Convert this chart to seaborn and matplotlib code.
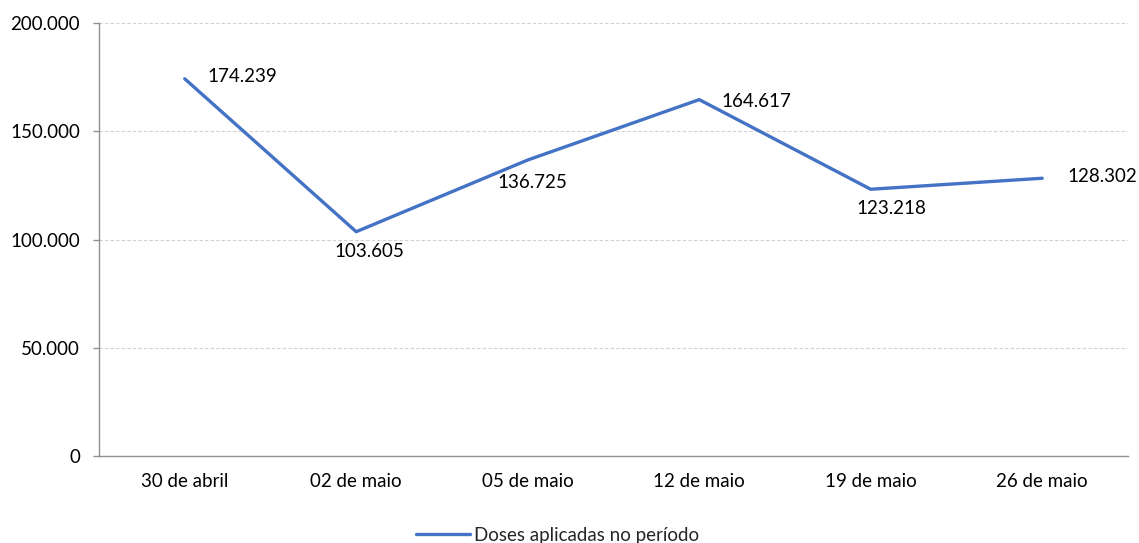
import matplotlib
matplotlib.use("Agg")
import matplotlib.pyplot as plt
import seaborn as sns
import pandas as pd
from matplotlib.ticker import FuncFormatter, FixedLocator
from matplotlib.lines import Line2D

categories = ["30 de abril", "02 de maio", "05 de maio", "12 de maio", "19 de maio", "26 de maio"]
doses = [174239, 103605, 136725, 164617, 123218, 128302]
series_name = "Doses aplicadas no período"

sns.set_theme(style="white")
plt.rcParams['font.family'] = ['Lato', 'DejaVu Sans']

df = pd.DataFrame({"idx": range(len(categories)), "val": doses, "serie": series_name})

FS = 13.5
fig = plt.figure(figsize=(11.39, 5.43), dpi=100)
ax = fig.add_axes([0.0869, 0.1602, 0.9034, 0.7974])

color = "#4472C4"
sns.lineplot(data=df, x="idx", y="val", hue="serie", palette=[color], linewidth=2.4, ax=ax, legend=False)

ax.set_xlim(-0.5, len(categories) - 0.5)
ax.set_ylim(0, 200000)
ax.set_yticks([0, 50000, 100000, 150000, 200000])
ax.yaxis.set_major_formatter(FuncFormatter(lambda v, p: f"{int(v):,}".replace(",", ".")))
ax.set_xticks(range(len(categories)))
ax.set_xticklabels(categories)
ax.xaxis.set_minor_locator(FixedLocator([i - 0.5 for i in range(len(categories) + 1)]))
ax.tick_params(axis="x", which="major", length=0, pad=12, labelsize=FS, colors="#000000")
ax.tick_params(axis="x", which="minor", length=4.5, width=1, color="#909090", direction="out")
ax.tick_params(axis="y", length=4.5, width=1, color="#909090", direction="out", labelsize=FS, pad=9,
               left=True, labelcolor="#000000")
ax.set_xlabel("")
ax.set_ylabel("")

ax.grid(axis="y", linestyle=(0, (3, 2)), color="#D0D0D0", linewidth=0.8)
ax.set_axisbelow(True)
for s in ["top", "right"]:
    ax.spines[s].set_visible(False)
for s in ["left", "bottom"]:
    ax.spines[s].set_color("#909090")
    ax.spines[s].set_linewidth(1)

offsets = [(16.5, 1.5, "left"),
           (9.4, -14.4, "center"),
           (3, -16.5, "center"),
           (15.8, -1.4, "left"),
           (15, -13.7, "center"),
           (18, 1.4, "left")]
for i, v in enumerate(doses):
    dx, dy, ha = offsets[i]
    ax.annotate(f"{v:,}".replace(",", "."), (i, v), xytext=(dx, dy), textcoords="offset points",
                ha=ha, va="center", fontsize=FS, color="#000000")

handle = Line2D([0], [0], color=color, linewidth=2.4)
fig.legend([handle], [series_name], loc="center", bbox_to_anchor=(0.4895, 0.0147), frameon=False,
           fontsize=FS, handlelength=2.9, handletextpad=0.2, borderpad=0)

fig.savefig("out.png", dpi=100)
